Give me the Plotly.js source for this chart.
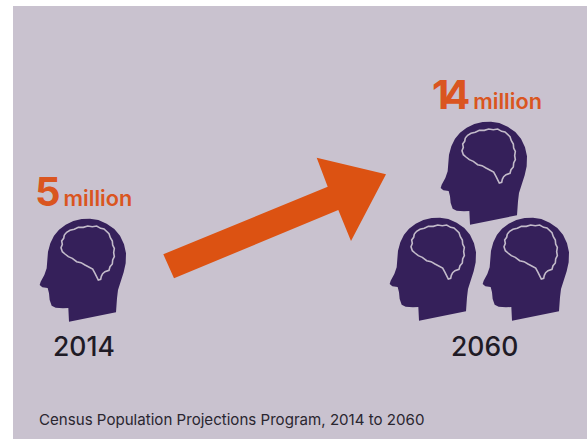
<!DOCTYPE html>
<html>
<head>
<meta charset="utf-8">
<script src="https://cdn.plot.ly/plotly-3.0.1.min.js"></script>
<style>html,body{margin:0;padding:0;background:#fff}#chart{width:587px;height:439px}</style>
</head>
<body>
<div id="chart"></div>
<script>
// Projected population figures
const years = [2014, 2060];
const millions = [5, 14];
const unit = 'million';
const source = 'Census Population Projections Program, 2014 to 2060';

// Pictogram outlines, in thirds of a pixel around a head's own corner
const headX = [102,100,84,62,50,44,42,38,22,14,17,28,35,36,39,46,57,72,92,115,140,165,190,215,238,255,267,273,272,266,256,249,246,243,102];
const headY = [320,279,280,278,272,255,235,219,217,210,200,180,160,135,110,85,62,44,29,18,12,11,15,26,42,62,88,115,145,172,200,225,250,292,320];
const brainX = [88,95,105,118,130,145,158,172,185,197,207,215,222,226,232,233,238,236,238,233,232,225,222,210,203,199,197,190,184,180,173,162,150,138,125,112,100,90,82,78,82,80,86,88];
const brainY = [60,52,46,43,37,37,33,35,33,40,42,50,56,68,78,90,100,113,125,135,147,155,166,170,176,184,193,195,185,175,162,155,150,143,140,130,125,117,110,98,88,78,70,60];

// Where each head sits, per year
const headOrigins = [
  [[35, 215]],
  [[436, 118], [385, 214], [478, 214]]
];

// Growth arrow
const arrowX = [163.3,174,338.3,351,386,316.7,327.7,163.3];
const arrowY = [254.3,278.3,210,241,174.3,157.7,186.7,254.3];

const panel = '#c9c2cf';
const orange = '#dc5212';
const labelOrange = '#da5520';
const purple = '#35205a';
const brainLine = '#c3bbca';
const ink = '#1f1b26';
const face = 'Inter, "Noto Sans", sans-serif';

const traces = [{
  x: arrowX, y: arrowY, mode: 'lines', fill: 'toself',
  fillcolor: orange, line: {width: 0, color: orange}, hoverinfo: 'skip'
}];

headOrigins.forEach(group => group.forEach(([ox, oy]) => {
  traces.push({
    x: headX.map(v => ox + v / 3), y: headY.map(v => oy + v / 3),
    mode: 'lines', fill: 'toself', fillcolor: purple,
    line: {width: 0, color: purple}, hoverinfo: 'skip'
  });
  traces.push({
    x: brainX.map(v => ox + v / 3), y: brainY.map(v => oy + v / 3),
    mode: 'lines', line: {width: 1.6, color: brainLine}, hoverinfo: 'skip'
  });
}));

const amountAnchors = [[33, 191], [430, 94.5]];
const yearAnchors = [[83.5, 346], [484, 346]];

const annotations = [];
years.forEach((year, i) => {
  annotations.push({
    xref: 'x', yref: 'y', x: amountAnchors[i][0], y: amountAnchors[i][1],
    xanchor: 'left', yanchor: 'middle', showarrow: false,
    text: `<span style="font-size:40px;font-weight:700;letter-spacing:-6px">${millions[i]}</span><span style="font-size:14px;letter-spacing:5px"> </span><span style="font-size:21.7px;font-weight:600">${unit}</span>`,
    font: {family: face, color: labelOrange, size: 22}
  });
  annotations.push({
    xref: 'x', yref: 'y', x: yearAnchors[i][0], y: yearAnchors[i][1],
    xanchor: 'center', yanchor: 'middle', showarrow: false,
    text: String(year),
    font: {family: face, color: ink, size: 26.5, weight: 500}
  });
});
annotations.push({
  xref: 'x', yref: 'y', x: 37, y: 419,
  xanchor: 'left', yanchor: 'middle', showarrow: false,
  text: source,
  font: {family: face, color: '#2a2630', size: 15.1}
});

const hidden = {visible: false, fixedrange: true};
Plotly.newPlot('chart', traces, {
  width: 587, height: 439,
  margin: {l: 13, r: 0, t: 6, b: 0},
  paper_bgcolor: '#ffffff', plot_bgcolor: panel,
  showlegend: false,
  xaxis: Object.assign({range: [13, 587]}, hidden),
  yaxis: Object.assign({range: [439, 6]}, hidden),
  annotations
}, {staticPlot: true, displayModeBar: false});
</script>
</body>
</html>
